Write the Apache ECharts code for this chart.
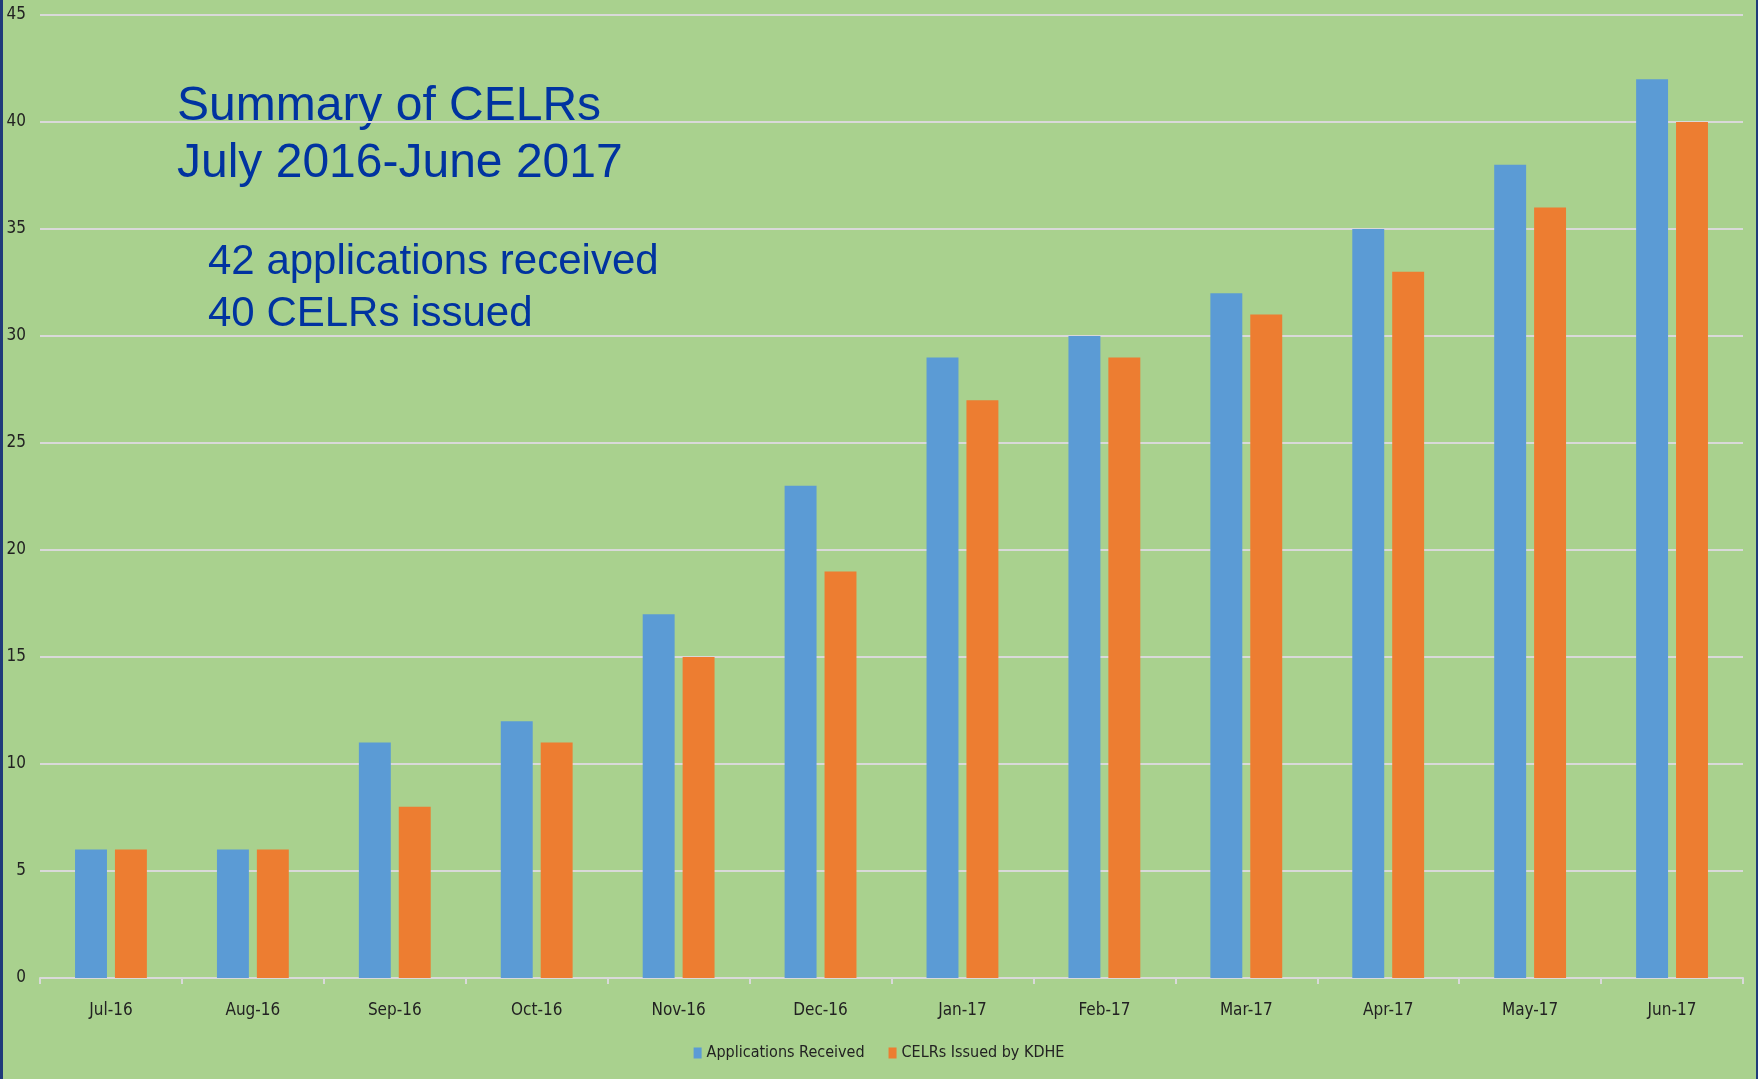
<!DOCTYPE html>
<html lang="en">
  <head>
    <meta charset="UTF-8" />
    <title>Summary of CELRs</title>
    <script src="https://cdn.jsdelivr.net/npm/echarts@6/dist/echarts.min.js"></script>
    <style>
      html, body { margin: 0; padding: 0; background: #a9d18e; }
    </style>
  </head>
  <body>
    <div id="chart" style="width: 1758px; height: 1079px"></div>
  </body>
  <script>
    const months = ['Jul-16', 'Aug-16', 'Sep-16', 'Oct-16', 'Nov-16', 'Dec-16', 'Jan-17', 'Feb-17', 'Mar-17', 'Apr-17', 'May-17', 'Jun-17']
    const applications = [6, 6, 11, 12, 17, 23, 29, 30, 32, 35, 38, 42]
    const celrsIssued = [6, 6, 8, 11, 15, 19, 27, 29, 31, 33, 36, 40]

    const narrow = '"Liberation Sans Narrow", "DejaVu Sans Condensed", "Noto Sans", sans-serif'
    const gridColor = '#d9d9d9'

    const chart = echarts.init(document.getElementById('chart'))
    const option = {
      backgroundColor: '#a9d18e',
      animation: false,
      grid: { left: 40, right: 15, top: 15, bottom: 101, containLabel: false },
      legend: {
        bottom: 13,
        left: 'center',
        icon: 'rect',
        itemWidth: 8,
        itemHeight: 11,
        itemGap: 24,
        textStyle: { fontFamily: narrow, fontSize: 16, color: '#222' },
        data: ['Applications Received', 'CELRs Issued by KDHE']
      },
      xAxis: {
        type: 'category',
        data: months,
        axisLine: { lineStyle: { color: gridColor, width: 2 } },
        axisTick: { show: true, length: 6, lineStyle: { color: gridColor, width: 2 } },
        axisLabel: { fontFamily: narrow, fontSize: 17, color: '#222', margin: 24 }
      },
      yAxis: {
        type: 'value',
        min: 0,
        max: 45,
        interval: 5,
        axisLine: { show: false },
        axisTick: { show: false },
        axisLabel: { fontFamily: narrow, fontSize: 17, color: '#222', margin: 14 },
        splitLine: { lineStyle: { color: gridColor, width: 2 } }
      },
      series: [
        {
          name: 'Applications Received',
          type: 'bar',
          data: applications,
          barWidth: '22.5%',
          barGap: '25%',
          itemStyle: { color: '#5b9bd5' }
        },
        {
          name: 'CELRs Issued by KDHE',
          type: 'bar',
          data: celrsIssued,
          barWidth: '22.5%',
          itemStyle: { color: '#ed7d31' }
        }
      ],
      graphic: [
        {
          type: 'text',
          left: 177,
          top: 78,
          style: {
            text: 'Summary of CELRs\nJuly 2016-June 2017',
            font: '48px "Liberation Sans", Arial, sans-serif',
            lineHeight: 57,
            fill: '#0033a0'
          }
        },
        {
          type: 'text',
          left: 208,
          top: 236,
          style: {
            text: '42 applications received\n40 CELRs issued',
            font: '42px "Liberation Sans", Arial, sans-serif',
            lineHeight: 52,
            fill: '#0033a0'
          }
        },
        { type: 'rect', left: 0, top: 0, shape: { width: 3, height: 1079 }, style: { fill: '#1f3a7a' } },
        { type: 'rect', right: 0, top: 0, shape: { width: 2, height: 1079 }, style: { fill: '#1f3a7a' } }
      ]
    }
    chart.setOption(option)
  </script>
</html>
